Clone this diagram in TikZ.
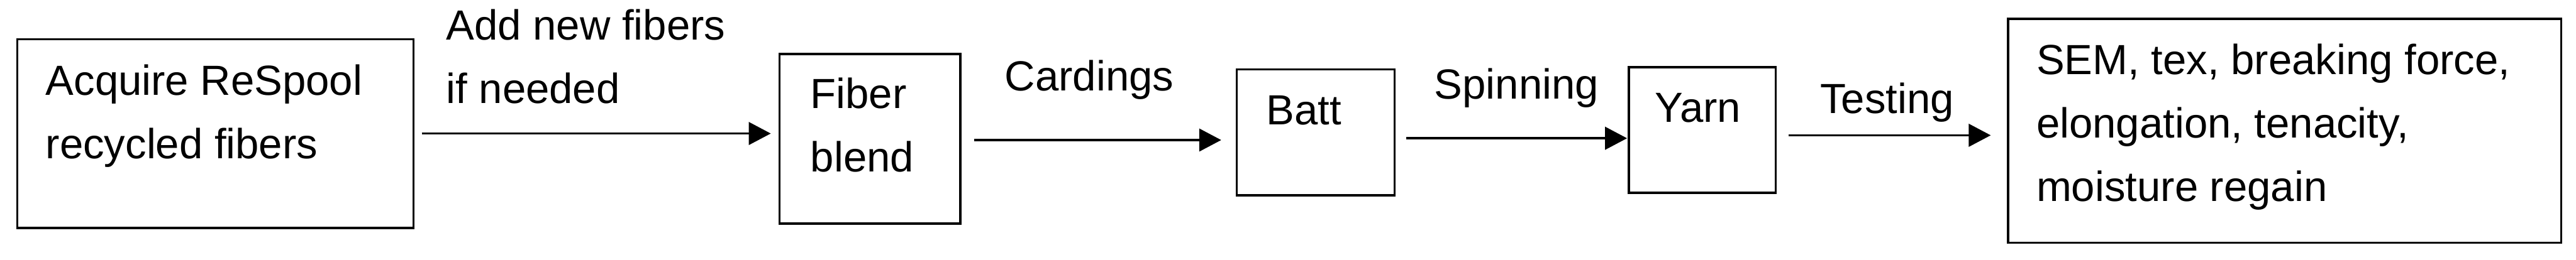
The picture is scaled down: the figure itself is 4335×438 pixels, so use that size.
\documentclass[tikz,border=0pt]{standalone}
\usepackage{fontspec}
\setmainfont{Liberation Sans}
\usetikzlibrary{arrows.meta}

\begin{document}
\begin{tikzpicture}[x=0.2pt, y=-0.2pt,
    box/.style={draw, line width=0.75pt, inner sep=0pt},
    txt/.style={anchor=north west, inner sep=0pt, align=left, font=\fontsize{14.2}{21.4}\selectfont},
    arr/.style={-{Triangle[length=7.4pt, width=7.6pt]}, line width=0.8pt}]
        \useasboundingbox (0,0) rectangle (4335,438);

        % Boxes of the process
        \node[box, minimum width=133.4pt, minimum height=63.6pt] (acquire) at (362.5,225) {};
        \node[box, minimum width=60.8pt, minimum height=57.2pt] (blend) at (1464,234) {};
        \node[box, minimum width=53.2pt, minimum height=42.4pt] (batt) at (2214,223) {};
        \node[box, minimum width=49.4pt, minimum height=42.4pt] (yarn) at (2864.5,219) {};
        \node[box, minimum width=186.2pt, minimum height=75.4pt] (tests) at (3844.5,220.5) {};

        % Text in the boxes
        \node[txt] (acquire-txt) at (76,108) {Acquire ReSpool\\recycled fibers};
        \node[txt] (blend-txt) at (1363,130) {Fiber\\blend};
        \node[txt] (batt-txt) at (2130,160) {Batt};
        \node[txt] (yarn-txt) at (2784,156) {Yarn};
        \node[txt] (tests-txt) at (3426,73) {SEM, tex, breaking force,\\elongation, tenacity,\\moisture regain};

        % Arrows and their steps
        \draw[arr, shorten <=2.4pt, shorten >=2.6pt] (acquire.east) -- (acquire.east -| blend.west);
        \node[txt] (add-lbl) at (750,15) {Add new fibers\\if needed};

        \draw[arr, shorten <=4.4pt, shorten >=4.8pt] ([yshift=-0.4pt]blend.east) -- ([yshift=-0.4pt]blend.east -| batt.west);
        \node[txt] (card-lbl) at (1690,100) {Cardings};

        \draw[arr, shorten <=3.6pt, shorten >=0.2pt] ([yshift=-2pt]batt.east) -- ([yshift=-2pt]batt.east -| yarn.west);
        \node[txt] (spin-lbl) at (2413,114) {Spinning};

        \draw[arr, shorten <=4pt, shorten >=5.4pt] ([yshift=-1.8pt]yarn.east) -- ([yshift=-1.8pt]yarn.east -| tests.west);
        \node[txt] (test-lbl) at (3062,139) {Testing};

    \end{tikzpicture}
\end{document}
